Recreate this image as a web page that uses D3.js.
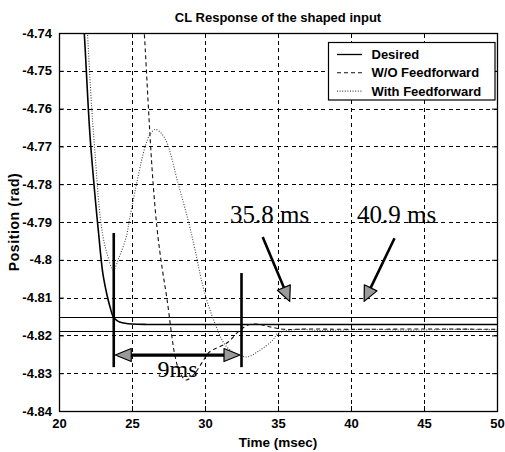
<!DOCTYPE html>
<html>
<head>
<meta charset="utf-8">
<script src="https://cdn.jsdelivr.net/npm/d3@7"></script>
<style>
  html, body { margin: 0; padding: 0; background: #fff; }
  svg { display: block; }
</style>
</head>
<body>
<svg id="chart" width="505" height="452"></svg>
<script>
// ---------------- data ----------------
const titleText = "CL Response of the shaped input";
const xLabelText = "Time (msec)";
const yLabelText = "Position (rad)";
const xTicks = [20, 25, 30, 35, 40, 45, 50];
const yTicks = [-4.74, -4.75, -4.76, -4.77, -4.78, -4.79, -4.8, -4.81, -4.82, -4.83, -4.84];
const seriesNames = ["Desired", "W/O Feedforward", "With Feedforward"];

// Desired (solid)
const desiredX = [21.6, 21.73, 22.12, 22.5, 22.7, 23.0, 23.3, 23.49, 23.72, 23.95, 24.2, 24.52, 25.0, 26, 30, 40, 50];
const desiredY = [-4.733, -4.740, -4.767, -4.7845, -4.7925, -4.8035, -4.8095, -4.8124, -4.8151, -4.8160, -4.8165, -4.8168, -4.8170, -4.8171, -4.8171, -4.8171, -4.8171];

// W/O Feedforward (dashed)
const woX = [25.7, 25.84, 26.1, 26.23, 26.44, 26.71, 27.0, 27.4, 27.95, 28.3, 28.7, 29.2, 29.8, 30.3, 31.5, 32.4, 33.0, 33.6, 34.5, 35.5, 37, 40, 45, 50];
const woY = [-4.733, -4.740, -4.758, -4.767, -4.7795, -4.7915, -4.8005, -4.8105, -4.8255, -4.8300, -4.8318, -4.8305, -4.8272, -4.8244, -4.8220, -4.8186, -4.8172, -4.8170, -4.8178, -4.8184, -4.8183, -4.8184, -4.8183, -4.8184];

// With Feedforward (dotted)
const wfX = [21.85, 21.95, 22.24, 22.5, 22.75, 23.0, 23.3, 23.72, 24.1, 24.6, 24.86, 25.41, 25.89, 26.25, 26.6, 27.0, 27.4, 28.15, 28.84, 29.32, 29.86, 30.55, 31.5, 32.4, 32.9, 33.77, 34.66, 34.95, 35.5, 36.5, 38, 41, 44, 47, 50];
const wfY = [-4.733, -4.740, -4.7598, -4.7735, -4.7860, -4.7935, -4.7985, -4.8027, -4.7995, -4.7940, -4.7887, -4.7781, -4.7702, -4.7667, -4.7655, -4.7665, -4.7691, -4.7797, -4.7895, -4.7974, -4.8070, -4.8155, -4.8231, -4.8252, -4.8257, -4.8239, -4.8212, -4.8196, -4.8188, -4.8184, -4.8187, -4.8184, -4.8186, -4.8184, -4.8185];

// settling band
const bandUpper = -4.8151;
const bandLower = -4.8189;

// annotations
const markerTimes = [23.75, 32.5];
const markerTops = [-4.7929, -4.8035];
const markerBottom = -4.8284;
const spanArrowLevel = -4.8252;
const spanLabel = "9ms";
const settleTimes = [35.8, 40.9];
const settleLabels = ["35.8 ms", "40.9 ms"];

// ---------------- layout ----------------
const W = 505, H = 452;
const plotL = 59, plotR = 497, plotT = 33, plotB = 411;
const svg = d3.select("#chart");
svg.append("rect").attr("width", W).attr("height", H).attr("fill", "#fff");

const x = d3.scaleLinear().domain([20, 50]).range([plotL, plotR]);
const y = d3.scaleLinear().domain([-4.84, -4.74]).range([plotB, plotT]);
const crisp = v => Math.round(v) + 0.5;

const sansFont = "'Liberation Sans', Arial, Helvetica, sans-serif";
const serifFont = "'Liberation Serif', 'Times New Roman', serif";

svg.append("defs").append("clipPath").attr("id", "clip")
  .append("rect").attr("x", plotL).attr("y", plotT)
  .attr("width", plotR - plotL).attr("height", plotB - plotT);

// grid
const grid = svg.append("g").attr("stroke", "#000").attr("stroke-width", 1)
  .attr("stroke-dasharray", "4,3.5").attr("fill", "none").attr("shape-rendering", "crispEdges");
xTicks.slice(1, -1).forEach(t => {
  grid.append("line").attr("x1", crisp(x(t))).attr("x2", crisp(x(t))).attr("y1", plotT).attr("y2", plotB);
});
yTicks.slice(1, -1).forEach(t => {
  grid.append("line").attr("x1", plotL).attr("x2", plotR).attr("y1", crisp(y(t))).attr("y2", crisp(y(t)));
});

// axes (ticks inward on all sides)
const tickLen = 5;
const axB = d3.axisBottom(x).tickValues(xTicks).tickSizeInner(-tickLen).tickSizeOuter(0).tickPadding(8).tickFormat(d => String(d));
const axL = d3.axisLeft(y).tickValues(yTicks).tickSizeInner(-tickLen).tickSizeOuter(0).tickPadding(7).tickFormat(d => String(d));
const axT = d3.axisTop(x).tickValues(xTicks).tickSizeInner(-tickLen).tickSizeOuter(0).tickFormat("");
const axR = d3.axisRight(y).tickValues(yTicks).tickSizeInner(-tickLen).tickSizeOuter(0).tickFormat("");

function styleAxis(g) {
  g.select(".domain").remove();
  g.selectAll(".tick line").attr("stroke", "#000").attr("stroke-width", 1);
  g.selectAll(".tick text").attr("fill", "#000")
    .style("font-family", sansFont).style("font-size", "13px").style("font-weight", "bold");
}
svg.append("g").attr("transform", `translate(0,${plotB})`).call(axB).call(styleAxis);
svg.append("g").attr("transform", `translate(${plotL},0)`).call(axL).call(styleAxis);
svg.append("g").attr("transform", `translate(0,${plotT})`).call(axT).call(styleAxis);
svg.append("g").attr("transform", `translate(${plotR},0)`).call(axR).call(styleAxis);

// band lines
const curves = svg.append("g").attr("clip-path", "url(#clip)");
[bandUpper, bandLower].forEach(v => {
  curves.append("line").attr("x1", plotL).attr("x2", plotR)
    .attr("y1", crisp(y(v))).attr("y2", crisp(y(v))).attr("stroke", "#000").attr("stroke-width", 1);
});

const line = d3.line().x(d => x(d[0])).y(d => y(d[1])).curve(d3.curveCatmullRom.alpha(0.5));
const zipXY = (xs, ys) => xs.map((v, i) => [v, ys[i]]);

const styles = [
  { stroke: "#000", width: 1.6, dash: null },
  { stroke: "#111", width: 1.1, dash: "4,3" },
  { stroke: "#444", width: 1.1, dash: "1,1.6" }
];
const seriesData = [zipXY(desiredX, desiredY), zipXY(woX, woY), zipXY(wfX, wfY)];

seriesData.forEach((d, i) => {
  curves.append("path").datum(d).attr("d", line).attr("fill", "none")
    .attr("stroke", styles[i].stroke).attr("stroke-width", styles[i].width)
    .attr("stroke-dasharray", styles[i].dash);
});

// box
svg.append("rect").attr("x", plotL + 0.5).attr("y", plotT + 0.5)
  .attr("width", plotR - plotL).attr("height", plotB - plotT)
  .attr("fill", "none").attr("stroke", "#000").attr("stroke-width", 1.3);

// ---------------- annotations ----------------
const ann = svg.append("g");
function arrowHead(g, tipX, tipY, fromX, fromY, len, half) {
  const dx = tipX - fromX, dy = tipY - fromY;
  const L = Math.hypot(dx, dy), ux = dx / L, uy = dy / L;
  const bx = tipX - ux * len, by = tipY - uy * len;
  const px = -uy, py = ux;
  g.append("polygon")
    .attr("points", `${tipX},${tipY} ${bx + px * half},${by + py * half} ${bx - px * half},${by - py * half}`)
    .attr("fill", "#9a9a9a").attr("stroke", "#000").attr("stroke-width", 1.2).attr("stroke-linejoin", "round");
  return [bx, by];
}

markerTimes.forEach((t, i) => {
  ann.append("line").attr("x1", x(t)).attr("x2", x(t))
    .attr("y1", y(markerTops[i])).attr("y2", y(markerBottom))
    .attr("stroke", "#000").attr("stroke-width", 2.6);
});

{
  const ya = y(spanArrowLevel);
  const xa = x(markerTimes[0]) + 1.5, xb = x(markerTimes[1]) - 1.5;
  ann.append("line").attr("x1", xa + 14).attr("x2", xb - 14).attr("y1", ya).attr("y2", ya)
    .attr("stroke", "#000").attr("stroke-width", 3.2);
  arrowHead(ann, xa, ya, xb, ya, 16, 6.5);
  arrowHead(ann, xb, ya, xa, ya, 16, 6.5);
  ann.append("text").attr("x", x(26.75)).attr("y", y(-4.8310))
    .style("font-family", serifFont).style("font-size", "24px").attr("fill", "#000")
    .text(spanLabel);
}

const settleTip = -4.8110;
const arrowStart = [[33.95, -4.7940], [42.98, -4.7943]];
settleTimes.forEach((t, i) => {
  const tx = x(t), ty = y(settleTip);
  const sx = x(arrowStart[i][0]), sy = y(arrowStart[i][1]);
  const [bx, by] = arrowHead(ann, tx, ty, sx, sy, 15, 7);
  ann.append("line").attr("x1", sx).attr("y1", sy).attr("x2", bx).attr("y2", by)
    .attr("stroke", "#000").attr("stroke-width", 2.6);
});
const labelPos = [[31.71, -4.7903], [40.41, -4.7903]];
settleLabels.forEach((s, i) => {
  ann.append("text").attr("x", x(labelPos[i][0])).attr("y", y(labelPos[i][1]))
    .style("font-family", serifFont).style("font-size", "25px").attr("fill", "#000")
    .text(s);
});

// ---------------- legend ----------------
const lg = svg.append("g");
lg.append("rect").attr("x", 328.5).attr("y", 42.5).attr("width", 166.5).attr("height", 57.5)
  .attr("fill", "#fff").attr("stroke", "#000").attr("stroke-width", 1.2);
seriesNames.forEach((n, i) => {
  const yy = 54.5 + i * 18.3;
  lg.append("line").attr("x1", 337).attr("x2", 362).attr("y1", yy).attr("y2", yy)
    .attr("stroke", styles[i].stroke).attr("stroke-width", i === 0 ? 1.3 : 1.1)
    .attr("stroke-dasharray", styles[i].dash);
  lg.append("text").attr("x", 371.5).attr("y", yy).attr("dy", "0.35em")
    .style("font-family", sansFont).style("font-size", "13px").style("font-weight", "bold")
    .attr("fill", "#000").text(n);
});

// ---------------- titles ----------------
svg.append("text").attr("x", (plotL + plotR) / 2).attr("y", 21.5).attr("text-anchor", "middle")
  .style("font-family", sansFont).style("font-size", "13px").style("font-weight", "bold")
  .attr("fill", "#000").text(titleText);
svg.append("text").attr("x", (plotL + plotR) / 2).attr("y", 447).attr("text-anchor", "middle")
  .style("font-family", sansFont).style("font-size", "13.5px").style("font-weight", "bold")
  .attr("fill", "#000").text(xLabelText);
svg.append("text").attr("transform", `translate(19,${(plotT + plotB) / 2}) rotate(-90)`)
  .attr("text-anchor", "middle")
  .style("font-family", sansFont).style("font-size", "14px").style("font-weight", "bold")
  .style("letter-spacing", "0.6px")
  .attr("fill", "#000").text(yLabelText);
</script>
</body>
</html>
